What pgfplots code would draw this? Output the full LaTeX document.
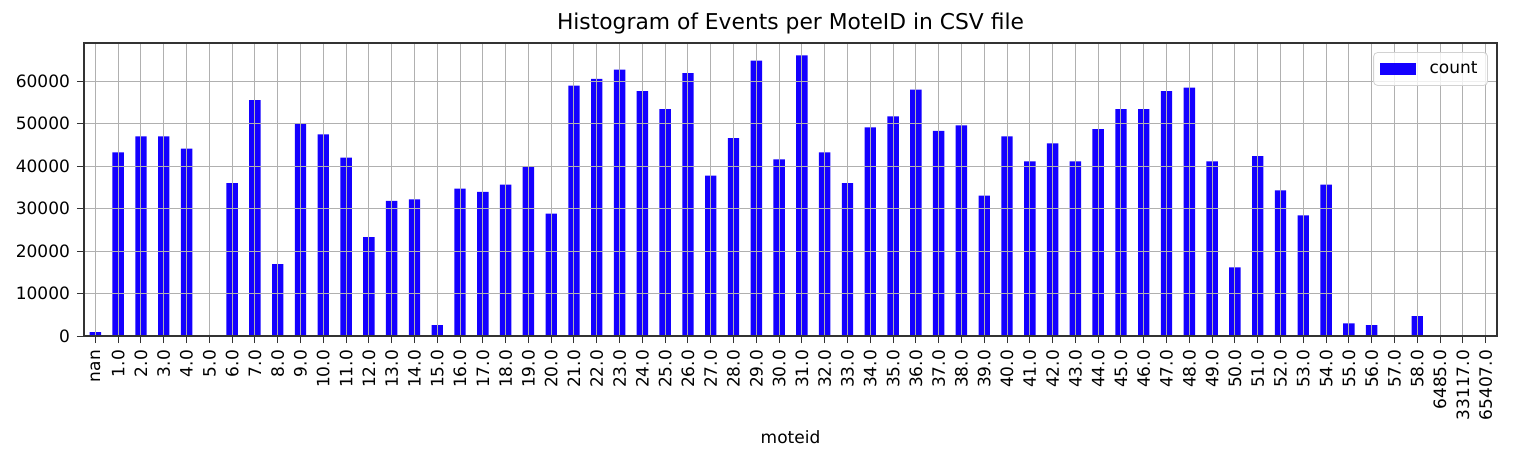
\documentclass[border=0pt]{standalone}
\usepackage{fontspec}
\setmainfont{DejaVu Sans}
\usepackage{pgfplots}
\pgfplotsset{compat=1.18}
\usetikzlibrary{calc}
\definecolor{barblue}{RGB}{20,0,255}
\definecolor{gridgray}{RGB}{176,176,176}
\begin{document}
\begin{tikzpicture}
\begin{axis}[
    name=ax,
    scale only axis,
    width=706.5pt, height=146.5pt,
    xmin=-0.5, xmax=61.5,
    ymin=0, ymax=69000,
    ybar, bar width=0.5,
    xtick={0,...,61},
    xticklabels={nan,1.0,2.0,3.0,4.0,5.0,6.0,7.0,8.0,9.0,10.0,11.0,12.0,13.0,14.0,15.0,16.0,17.0,18.0,19.0,20.0,21.0,22.0,23.0,24.0,25.0,26.0,27.0,28.0,29.0,30.0,31.0,32.0,33.0,34.0,35.0,36.0,37.0,38.0,39.0,40.0,41.0,42.0,43.0,44.0,45.0,46.0,47.0,48.0,49.0,50.0,51.0,52.0,53.0,54.0,55.0,56.0,57.0,58.0,6485.0,33117.0,65407.0},
    ytick={0,10000,...,60000},
    scaled y ticks=false,
    yticklabel style={/pgf/number format/fixed, /pgf/number format/1000 sep={}},
    /pgf/number format/assume math mode=true,
    tick label style={font=\fontsize{8.5}{10}\selectfont},
    x tick label style={rotate=90, anchor=east},
    grid=major,
    major grid style={gridgray, line width=0.5pt},
    axis on top,
    tick align=outside, tick pos=left,
    major tick length=3.5pt,
    tick style={black!80, line width=0.5pt},
    axis line style={black!80, line width=0.6pt},
    title={Histogram of Events per MoteID in CSV file},
    title style={font=\fontsize{10.9}{12}\selectfont, at={(0.5,1)}, anchor=base, yshift=1pt},
    xlabel={moteid},
    xlabel style={font=\fontsize{8.5}{10}\selectfont, at={(axis description cs:0.5,-0.345)}, anchor=center},
    legend style={at={(0.9936,0.969)}, anchor=north east, draw=gray!35,
        rounded corners=2pt, fill=white, fill opacity=0.8, text opacity=1,
        font=\fontsize{8.5}{10}\selectfont, inner xsep=3pt, inner ysep=2.5pt},
    legend cell align=left,
]
\addplot[fill=barblue, draw=none,
    legend image code/.code={\fill[barblue, fill opacity=1, sharp corners] (0pt,-3.2pt) rectangle (18pt,3.2pt); \path (23pt,0pt);}]
coordinates {
    (0,900) (1,43240) (2,47000) (3,47000) (4,44100) (5,0) (6,36030) (7,55540)
    (8,16920) (9,50050) (10,47470) (11,41990) (12,23260) (13,31800) (14,32190)
    (15,2585) (16,34700) (17,33920) (18,35640) (19,39870) (20,28830) (21,58980)
    (22,60550) (23,62740) (24,57650) (25,53420) (26,61880) (27,37760) (28,46610)
    (29,64860) (30,41590) (31,66110) (32,43240) (33,36030) (34,49110) (35,51700)
    (36,58040) (37,48330) (38,49580) (39,33060) (40,47000) (41,41120) (42,45350)
    (43,41120) (44,48720) (45,53420) (46,53420) (47,57650) (48,58510) (49,41120)
    (50,16140) (51,42380) (52,34310) (53,28430) (54,35640) (55,2980) (56,2585)
    (57,0) (58,4700) (59,0) (60,0) (61,0)
};
\addlegendentry{count}
\end{axis}
\pgfresetboundingbox
\path ($(ax.south west)+(-42pt,-62pt)$) rectangle ($(ax.north east)+(8.5pt,21.5pt)$);
\end{tikzpicture}
\end{document}
